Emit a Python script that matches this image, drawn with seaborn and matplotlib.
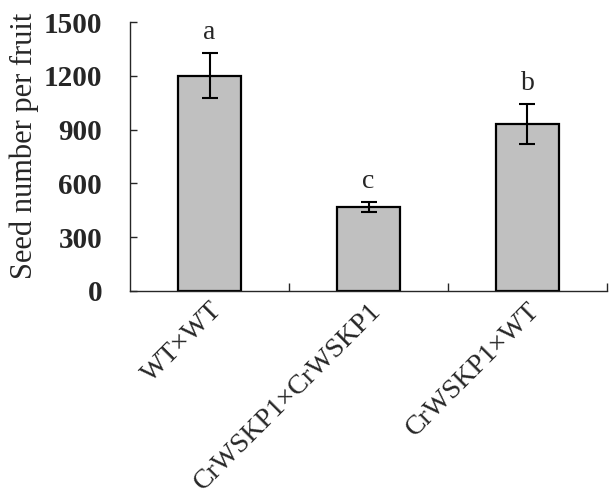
import numpy as np
import pandas as pd
import matplotlib
matplotlib.use("Agg")
import matplotlib.pyplot as plt
import seaborn as sns

sns.set_style("ticks")
plt.rcParams['font.family'] = ['Liberation Serif', 'DejaVu Serif']

crosses = ["WT\u00d7WT", "CrWSKP1\u00d7CrWSKP1", "CrWSKP1\u00d7WT"]
seed_mean = [1200, 468, 930]
seed_err = [125, 27, 112]
letters = ["a", "c", "b"]

df = pd.DataFrame({"cross": crosses, "seeds": seed_mean})

fig = plt.figure(figsize=(6.09, 4.97), dpi=100)
ax = fig.add_axes([0.2135, 0.4145, 0.7832, 0.5412])

sns.barplot(data=df, x="cross", y="seeds", color="#c0c0c0", width=0.4,
            edgecolor="black", linewidth=1.6, saturation=1, ax=ax)
ax.errorbar(range(len(crosses)), seed_mean, yerr=seed_err, fmt="none",
            ecolor="black", elinewidth=1.5, capsize=6, capthick=1.5)

for i, (m, e, l) in enumerate(zip(seed_mean, seed_err, letters)):
    ax.annotate(l, (i, m + e), xytext=(0, 6), textcoords="offset points",
                ha="center", va="bottom", fontsize=20)

ax.set_xlim(-0.5, 2.5)
ax.set_ylim(0, 1500)
ax.set_yticks([0, 300, 600, 900, 1200, 1500])
ax.set_yticklabels(["0", "300", "600", "900", "1200", "1500"],
                   fontsize=21, fontweight="bold")
ax.set_xticks([0, 1, 2])
ax.set_xticklabels(crosses, rotation=45, ha="right", rotation_mode="anchor",
                   fontsize=20)
ax.tick_params(axis="x", length=0, pad=5)
ax.set_xticks([0.5, 1.5, 2.5], minor=True)
ax.tick_params(axis="x", which="minor", direction="in", length=6, width=1)
ax.tick_params(axis="y", direction="in", length=5, width=1, pad=20)
ax.set_xlabel("")
ax.set_ylabel("Seed number per fruit", fontsize=22)
ax.yaxis.set_label_coords(-0.19, 0.54)
for s in ["top", "right"]:
    ax.spines[s].set_visible(False)
for s in ["left", "bottom"]:
    ax.spines[s].set_linewidth(1.0)

fig.savefig("out.png", dpi=100)
